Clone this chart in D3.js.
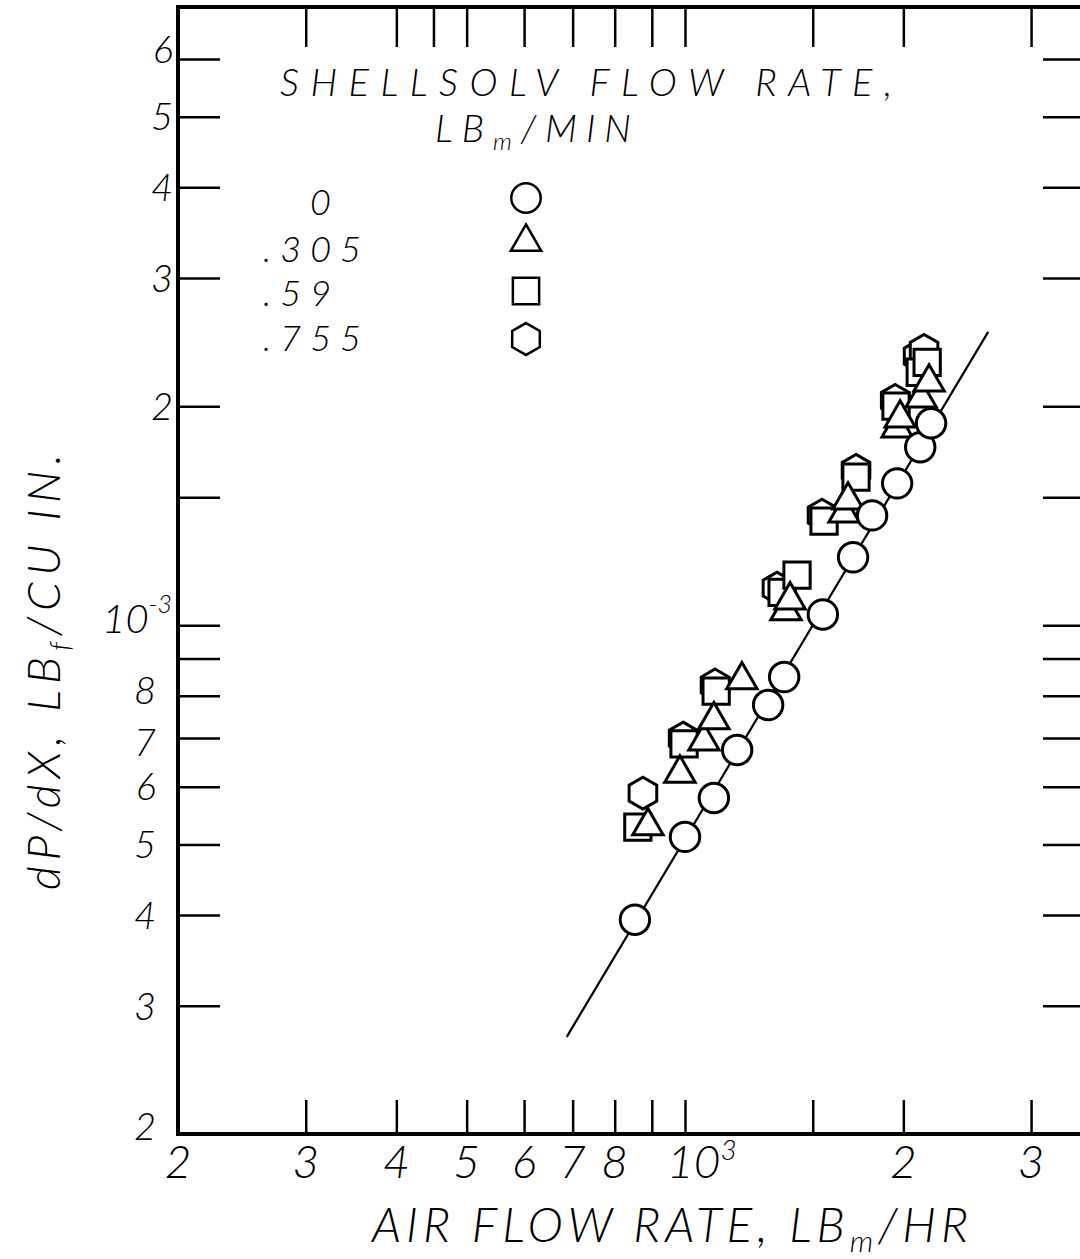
<!DOCTYPE html>
<html>
<head>
<meta charset="utf-8">
<script src="https://cdn.jsdelivr.net/npm/d3@7/dist/d3.min.js"></script>
<style>
  html, body { margin: 0; padding: 0; background: #fff; }
  svg { display: block; }
  text { font-family: "Lato", "DejaVu Sans", sans-serif; font-weight: 300; font-style: italic; fill: #000; }
</style>
</head>
<body>
<svg id="chart" width="1080" height="1259"></svg>
<script>
// ---------- DATA ----------
// Shellsolv flow rate 0 lb/min (circles)
const circleAir = [853, 1000, 1096, 1180, 1302, 1370, 1549, 1705, 1811, 1961, 2110, 2184];
const circleDp  = [3.94e-4, 5.12e-4, 5.79e-4, 6.74e-4, 7.77e-4, 8.49e-4, 1.035e-3, 1.24e-3, 1.416e-3, 1.567e-3, 1.757e-3, 1.895e-3];
// .305 lb/min (triangles)
const triAir = [889, 984, 1062, 1096, 1198, 1396, 1378, 1678, 1657, 1980, 1961, 2170, 2116];
const triDp  = [5.30e-4, 6.26e-4, 6.93e-4, 7.41e-4, 8.41e-4, 1.083e-3, 1.046e-3, 1.485e-3, 1.426e-3, 1.925e-3, 1.866e-3, 2.158e-3, 2.051e-3];
// .59 lb/min (squares)
const sqAir = [861, 997, 1104, 1427, 1361, 1555, 1721, 1954, 2157, 2110];
const sqDp  = [5.28e-4, 6.87e-4, 8.12e-4, 1.172e-3, 1.110e-3, 1.390e-3, 1.598e-3, 2.0e-3, 2.298e-3, 2.227e-3];
// .755 lb/min (hexagons)
const hexAir = [875, 994, 1100, 1339, 1545, 1721, 1949, 2136, 2096];
const hexDp  = [5.88e-4, 7.0e-4, 8.28e-4, 1.125e-3, 1.417e-3, 1.633e-3, 2.037e-3, 2.386e-3, 2.343e-3];
// fitted line through the zero-flow data
const fitAir = [687, 2618];
const fitDp  = [2.72e-4, 2.53e-3];

// legend
const legendLabels = ["0", ".305", ".59", ".755"];
const legendShapes = ["circle", "triangle", "square", "hexagon"];

// ticks and tick labels
const xTicksBottom = [300, 400, 500, 600, 700, 800, 900, 1000, 1500, 2000, 3000];
const xTicksTop    = [300, 400, 450, 500, 600, 700, 800, 900, 1000, 1500, 2000, 3000];
const xLabelValues = [200, 300, 400, 500, 600, 700, 800, 1000, 2000, 3000];
const xLabelTexts  = ["2", "3", "4", "5", "6", "7", "8", "10", "2", "3"];
const yTicks = [3e-4, 4e-4, 5e-4, 6e-4, 7e-4, 8e-4, 9e-4, 1e-3, 1.5e-3, 2e-3, 3e-3, 4e-3, 5e-3, 6e-3];
const yLabelValues = [2e-4, 3e-4, 4e-4, 5e-4, 6e-4, 7e-4, 8e-4, 1e-3, 2e-3, 3e-3, 4e-3, 5e-3, 6e-3];
const yLabelTexts  = ["2", "3", "4", "5", "6", "7", "8", "10", "2", "3", "4", "5", "6"];

// ---------- SCALES ----------
const svg = d3.select("#chart");
const x = d3.scaleLog().domain([200, 1000]).range([178, 685]);
const y = d3.scaleLog().domain([2e-4, 6e-3]).range([1134, 59]);

const frameL = x(200), frameR = x(3560), frameB = y(2e-4), frameT = 7;

// ---------- SYMBOLS ----------
const symbolHex = {
  draw(ctx, size) {
    const r = Math.sqrt(size * 2 / (3 * Math.sqrt(3)));
    for (let i = 0; i < 6; i++) {
      const a = (-90 + 60 * i) * Math.PI / 180;
      const px = r * Math.cos(a), py = r * Math.sin(a);
      if (i === 0) ctx.moveTo(px, py); else ctx.lineTo(px, py);
    }
    ctx.closePath();
  }
};
const shapeDef = {
  circle:   d3.symbol().type(d3.symbolCircle).size(680),
  triangle: d3.symbol().type(d3.symbolTriangle).size(400),
  square:   d3.symbol().type(d3.symbolSquare).size(690),
  hexagon:  d3.symbol().type(symbolHex).size(660)
};

// ---------- FRAME & TICKS ----------
const axisG = svg.append("g");
axisG.append("g").attr("transform", `translate(0,${frameB})`)
  .call(d3.axisBottom(x).tickValues(xTicksBottom).tickSize(-34).tickFormat(""))
  .call(g => g.select(".domain").remove())
  .selectAll("line").attr("stroke", "#000").attr("stroke-width", 2.5);
axisG.append("g").attr("transform", `translate(0,${frameT})`)
  .call(d3.axisTop(x).tickValues(xTicksTop).tickSize(-40).tickFormat(""))
  .call(g => g.select(".domain").remove())
  .selectAll("line").attr("stroke", "#000").attr("stroke-width", 2.5);
axisG.append("g").attr("transform", `translate(${frameL},0)`)
  .call(d3.axisLeft(y).tickValues(yTicks).tickSize(-42).tickFormat(""))
  .call(g => g.select(".domain").remove())
  .selectAll("line").attr("stroke", "#000").attr("stroke-width", 2.5);
axisG.append("g").attr("transform", `translate(${frameR},0)`)
  .call(d3.axisRight(y).tickValues(yTicks).tickSize(-42).tickFormat(""))
  .call(g => g.select(".domain").remove())
  .selectAll("line").attr("stroke", "#000").attr("stroke-width", 2.5);

svg.append("path")
  .attr("d", `M${frameR},${frameT}H${frameL}V${frameB}H${frameR}`)
  .attr("fill", "none").attr("stroke", "#000").attr("stroke-width", 4);

// ---------- TICK LABELS ----------
const xl = svg.append("g").attr("font-size", 46);
xLabelValues.forEach((v, i) => {
  const t = xl.append("text").attr("y", frameB + 44);
  if (v === 1000) {
    t.attr("x", x(v) - 18).attr("text-anchor", "start").text(xLabelTexts[i]);
    t.append("tspan").attr("dy", -18).attr("font-size", 28).text("3");
  } else {
    t.attr("x", x(v)).attr("text-anchor", "middle").text(xLabelTexts[i]);
  }
});

const yFont = 38;
const yl = svg.append("g").attr("font-size", yFont);
yLabelValues.forEach((v, i) => {
  const off = v < 1e-3 ? 22 : 5;
  // label centre sits on the tick; the crowded 8/7 pair is nudged apart
  let cy = y(v);
  if (v === 8e-4) cy -= 6;
  if (v === 7e-4) cy += 4;
  if (v === 6e-3) cy -= 10;
  if (v === 2e-4) cy -= 8;
  const t = yl.append("text")
    .attr("x", frameL - off)
    .attr("y", cy + yFont * 0.36)
    .attr("text-anchor", "end");
  if (v === 1e-3) {
    t.attr("x", frameL - 6).attr("y", y(v) + 8).attr("font-size", 40).text(yLabelTexts[i]);
    t.append("tspan").attr("dy", -20).attr("font-size", 25).text("-3");
  } else {
    t.text(yLabelTexts[i]);
  }
});

// ---------- AXIS TITLES ----------
const xt = svg.append("text")
  .attr("x", 372).attr("y", 1242)
  .attr("font-size", 48)
  .attr("textLength", 596).attr("lengthAdjust", "spacing");
xt.append("tspan").text("AIR FLOW RATE, LB");
xt.append("tspan").attr("font-size", 30).attr("dy", 10).text("m");
xt.append("tspan").attr("dy", -10).text("/HR");

const yt = svg.append("text")
  .attr("transform", `translate(60,890) rotate(-90)`)
  .attr("font-size", 46)
  .attr("textLength", 436).attr("lengthAdjust", "spacing");
yt.append("tspan").text("dP/dX, LB");
yt.append("tspan").attr("font-size", 28).attr("dy", 10).text("f");
yt.append("tspan").attr("dy", -10).text("/CU IN.");

// ---------- LEGEND ----------
svg.append("text").attr("x", 280).attr("y", 96).attr("font-size", 38)
  .attr("textLength", 612).attr("lengthAdjust", "spacing")
  .text("SHELLSOLV FLOW RATE,");
const lt = svg.append("text").attr("x", 435).attr("y", 142).attr("font-size", 38)
  .attr("textLength", 196).attr("lengthAdjust", "spacing");
lt.append("tspan").text("LB");
lt.append("tspan").attr("font-size", 24).attr("dy", 8).text("m");
lt.append("tspan").attr("dy", -8).text("/MIN");

const legendY = [198, 242, 291, 339];
const legendBase = [215, 262, 306, 351];
legendLabels.forEach((lab, i) => {
  svg.append("text")
    .attr("x", lab.startsWith(".") ? 263 : 310)
    .attr("y", legendBase[i])
    .attr("font-size", 36)
    .attr("letter-spacing", lab.startsWith(".") ? 9 : 0)
    .text(lab);
  svg.append("path")
    .attr("transform", `translate(526,${legendY[i]})`)
    .attr("d", shapeDef[legendShapes[i]]())
    .attr("fill", "#fff").attr("stroke", "#000").attr("stroke-width", 2.5);
});

// ---------- FIT LINE ----------
const fit = fitAir.map((a, i) => [a, fitDp[i]]);
svg.append("path")
  .attr("d", d3.line().x(d => x(d[0])).y(d => y(d[1]))(fit))
  .attr("fill", "none").attr("stroke", "#000").attr("stroke-width", 2.2);

// ---------- DATA POINTS ----------
function drawSeries(air, dp, shape) {
  const pts = air.map((a, i) => ({ a, d: dp[i] })).sort((p, q) => p.d - q.d);
  svg.append("g").selectAll("path").data(pts).join("path")
    .attr("transform", p => `translate(${x(p.a)},${y(p.d)})`)
    .attr("d", shapeDef[shape]())
    .attr("fill", "#fff").attr("stroke", "#000").attr("stroke-width", 3);
}
drawSeries(hexAir, hexDp, "hexagon");
drawSeries(sqAir, sqDp, "square");
drawSeries(triAir, triDp, "triangle");
drawSeries(circleAir, circleDp, "circle");
</script>
</body>
</html>
